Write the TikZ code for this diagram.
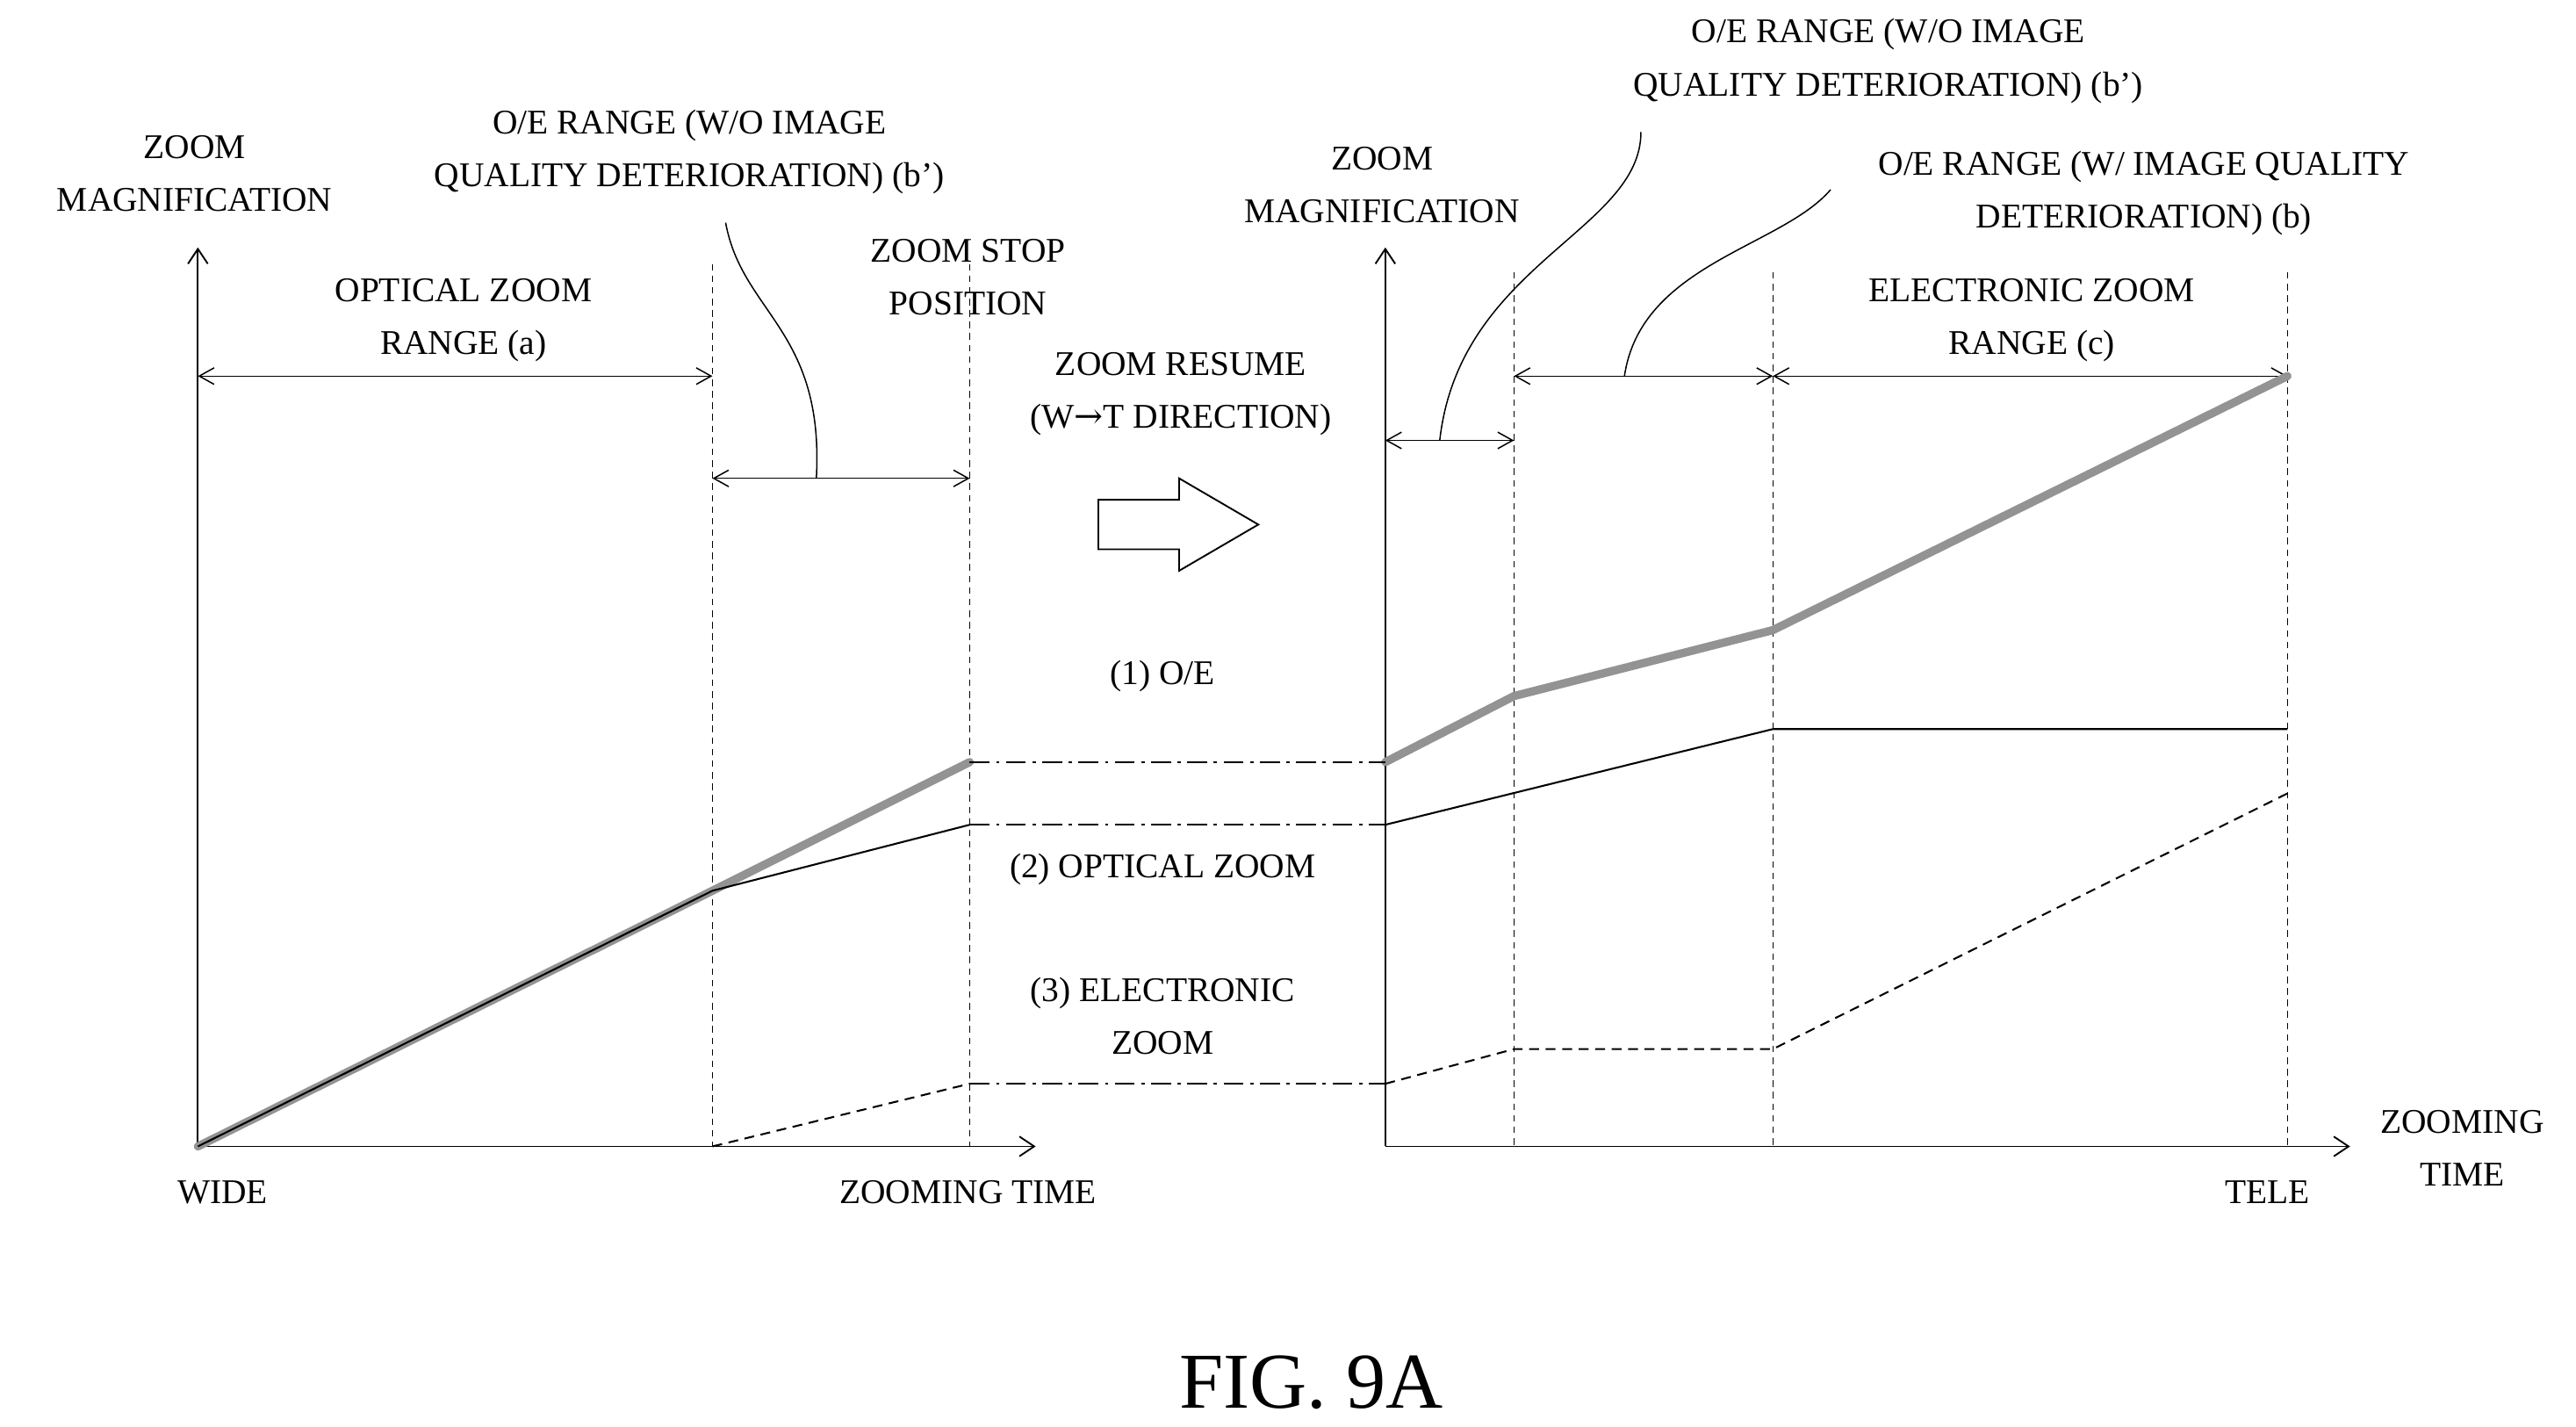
\documentclass[tikz,border=0pt]{standalone}
\usepackage{fontspec}
\setmainfont{Liberation Serif}
\newfontfamily\dv{DejaVu Serif}
\usetikzlibrary{arrows.meta}
\begin{document}
\begin{tikzpicture}[x=1pt,y=-1pt,
 lbl/.style={font=\fontsize{21}{32}\selectfont,align=center,inner sep=0pt},
 ax/.style={line width=1pt,-{Straight Barb[length=9pt,width=12pt]}},
 dim/.style={line width=0.8pt,{Straight Barb[length=9pt,width=10pt]}-{Straight Barb[length=9pt,width=10pt]}},
 vd/.style={line width=0.8pt,dash pattern=on 4pt off 3pt},
 gr/.style={line width=5pt,gray!85,line cap=round,line join=round},
 bl/.style={line width=1.1pt},
 el/.style={line width=1.1pt,dash pattern=on 6pt off 4pt},
 dd/.style={line width=0.9pt,dash pattern=on 12pt off 4pt on 2pt off 4pt},
 ld/.style={line width=0.8pt}]
\useasboundingbox (0,0) rectangle (1562,865);
% left axes
\coordinate (O1) at (120,695);
\draw[ax] (O1) -- (120,150);
\draw[ax] (O1) -- (628,695);
\draw[vd] (432,160) -- (432,695);
\draw[vd] (588,160) -- (588,695);
\draw[dim] (120,228) -- (432,228);
\draw[dim] (432,290) -- (588,290);
\coordinate (L1) at (495,290);
\draw[ld] (L1) .. controls (500,200) and (450,190) .. (440,135);
% left curves
\coordinate (A) at (432,540); \coordinate (B) at (588,500); \coordinate (C) at (588,462);
\coordinate (D) at (432,695); \coordinate (E) at (588,657);
\draw[gr] (O1) -- (A) -- (C);
\draw[bl] (O1) -- (A) -- (B);
\draw[el] (D) -- (E);
% right axes
\coordinate (O2) at (840,695);
\draw[ax] (O2) -- (840,150);
\draw[ax] (O2) -- (1425,695);
\foreach \x in {918,1075,1387} \draw[vd] (\x,165) -- (\x,695);
\draw[dim] (840,267) -- (918,267);
\draw[dim] (918,228) -- (1075,228);
\draw[dim] (1075,228) -- (1387,228);
\draw[ld] (873,267) .. controls (885,160) and (995,140) .. (995,80);
\draw[ld] (985,228) .. controls (995,160) and (1080,150) .. (1110,115);
\coordinate (C2) at (840,462); \coordinate (B2) at (840,500); \coordinate (E2) at (840,657);
\draw[gr] (C2) -- (918,422) -- (1075,382) -- (1387,228);
\draw[bl] (B2) -- (1075,442) -- (1387,442);
\draw[el] (E2) -- (918,636) -- (1075,636) -- (1387,481);
% dash-dot links
\draw[dd] (C) -- (C2);
\draw[dd] (B) -- (B2);
\draw[dd] (E) -- (E2);
% block arrow
\draw[line width=1pt] (666,303) -- (715,303) -- (715,290) -- (763,318) -- (715,346) -- (715,333) -- (666,333) -- cycle;
% labels
\node[lbl] (zm1) at (118,105) {ZOOM\\MAGNIFICATION};
\node[lbl] (oe1) at (418,92) {O/E RANGE (W/O IMAGE\\QUALITY DETERIORATION) (b')};
\node[lbl] (zs) at (587,168) {ZOOM STOP\\POSITION};
\node[lbl] (or) at (281,194) {OPTICAL ZOOM\\RANGE (a)};
\node[lbl] (zr) at (716,239) {ZOOM RESUME\\({W\dv\char"2192}T DIRECTION)};
\node[lbl] (l1) at (705,410) {(1) O/E};
\node[lbl] (l2) at (705,527) {(2) OPTICAL ZOOM};
\node[lbl] (l3) at (705,616) {(3) ELECTRONIC\\ZOOM};
\node[lbl] (wd) at (135,723) {WIDE};
\node[lbl] (zt1) at (587,723) {ZOOMING TIME};
\node[lbl] (zm2) at (838,112) {ZOOM\\MAGNIFICATION};
\node[lbl] (oe2) at (1145,37) {O/E RANGE (W/O IMAGE\\QUALITY DETERIORATION) (b')};
\node[lbl] (oe3) at (1300,117) {O/E RANGE (W/ IMAGE QUALITY\\DETERIORATION) (b)};
\node[lbl] (er) at (1232,194) {ELECTRONIC ZOOM\\RANGE (c)};
\node[lbl] (tl) at (1375,723) {TELE};
\node[lbl] (zt2) at (1493,696) {ZOOMING\\TIME};
\node[lbl,font=\fontsize{48}{50}\selectfont] (fig) at (795,838) {FIG. 9A};
\end{tikzpicture}
\end{document}
